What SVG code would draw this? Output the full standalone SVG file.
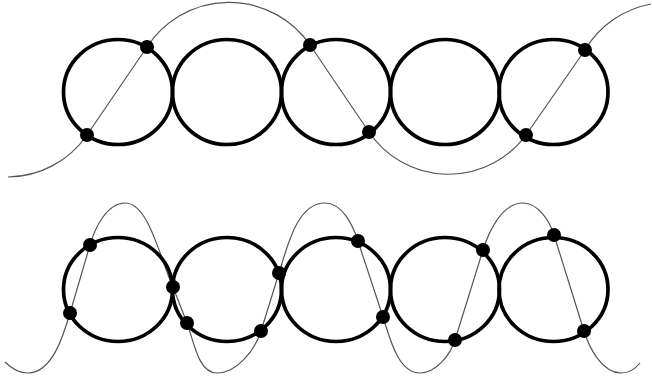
<svg xmlns="http://www.w3.org/2000/svg" width="652" height="378" viewBox="0 0 652 378">
  <style>
    .ring { fill: none; stroke: #000; stroke-width: 3.7; }
    .curve { fill: none; stroke: #555; stroke-width: 1.2; stroke-linejoin: round; }
    .dot { fill: #000; }
  </style>
  <rect width="652" height="378" fill="#fff"/>
  <g id="connectors">
    <path class="curve" d="M 8 177 A 97 97 0 0 0 87 135 L 147 47 A 98 98 0 0 1 310 45 L 369 132 A 96 96 0 0 0 526 135 L 585 50 A 97 97 0 0 1 651 4"/>
    <path class="curve" d="M 5 362 C 12 369 19 373 28 373
      C 52 373 63.3 336 70 313
      L 90 245
      C 95 227.7 107 203 125 203
      C 149 203 159.6 257.9 173 287
      L 187 323
      C 193.8 340.7 198 373 217 373
      C 237 373 255 350 261 331
      L 279 273
      C 287.4 246.4 297 203 325 203
      C 342 203 352.7 224.8 358 241
      L 383 317
      C 389.8 337.9 398 373 420 373
      C 436 373 450.2 355.2 455 340
      L 483 250
      C 489.2 230.4 502.4 203 523 203
      C 538 203 549.5 220.8 554 235
      L 584 331
      C 589.6 348.8 602.3 373 621 373
      C 630 373 636 368 640 363"/>
  </g>
  <g id="top-row">
    <g id="t1"><ellipse class="ring" cx="118" cy="92" rx="54.5" ry="52.5"/></g>
    <g id="t2"><ellipse class="ring" cx="227" cy="92" rx="54.5" ry="52.5"/></g>
    <g id="t3"><ellipse class="ring" cx="336" cy="92" rx="54.5" ry="52.5"/></g>
    <g id="t4"><ellipse class="ring" cx="445" cy="92" rx="54.5" ry="52.5"/></g>
    <g id="t5"><ellipse class="ring" cx="553.5" cy="92" rx="54.5" ry="52.5"/></g>
  </g>
  <g id="bottom-row">
    <g id="b1"><ellipse class="ring" cx="118" cy="289.5" rx="54.5" ry="52"/></g>
    <g id="b2"><ellipse class="ring" cx="227" cy="289.5" rx="54.5" ry="52"/></g>
    <g id="b3"><ellipse class="ring" cx="336" cy="289.5" rx="54.5" ry="52"/></g>
    <g id="b4"><ellipse class="ring" cx="445" cy="289.5" rx="54.5" ry="52"/></g>
    <g id="b5"><ellipse class="ring" cx="553.5" cy="289.5" rx="54.5" ry="52"/></g>
  </g>
  <g id="points">
    <circle class="dot" cx="147" cy="47" r="7"/>
    <circle class="dot" cx="87" cy="135" r="7"/>
    <circle class="dot" cx="310" cy="45" r="7"/>
    <circle class="dot" cx="369" cy="132" r="7"/>
    <circle class="dot" cx="526" cy="135" r="7"/>
    <circle class="dot" cx="585" cy="50" r="7"/>
    <circle class="dot" cx="90" cy="245" r="7"/>
    <circle class="dot" cx="70" cy="313" r="7"/>
    <circle class="dot" cx="173" cy="287" r="7"/>
    <circle class="dot" cx="187" cy="323" r="7"/>
    <circle class="dot" cx="261" cy="331" r="7"/>
    <circle class="dot" cx="279" cy="273" r="7"/>
    <circle class="dot" cx="358" cy="241" r="7"/>
    <circle class="dot" cx="383" cy="317" r="7"/>
    <circle class="dot" cx="455" cy="340" r="7"/>
    <circle class="dot" cx="483" cy="250" r="7"/>
    <circle class="dot" cx="554" cy="235" r="7"/>
    <circle class="dot" cx="584" cy="331" r="7"/>
  </g>
</svg>
